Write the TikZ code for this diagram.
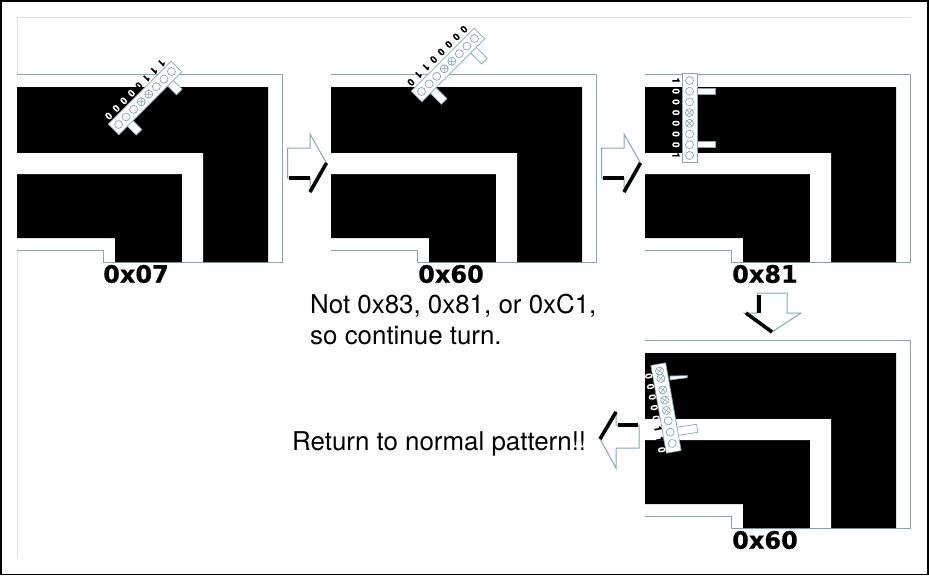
\documentclass[tikz,border=0pt]{standalone}
\usepackage{fontspec}
\setmainfont{TeX Gyre Heros}
\newfontfamily\boldlab[FakeBold=0.6]{DejaVu Sans Bold}
\newfontfamily\bitfont[FakeBold=0.4]{TeX Gyre Heros Bold}
\definecolor{edge}{HTML}{8AA5AF}
\definecolor{faint}{HTML}{E0E0E0}
\tikzset{
  x=1pt,y=-1pt,
  thinedge/.style={draw=edge,line width=1pt},
  heavy/.style={line width=3.6pt,black},
  hexlabel/.style={font=\boldlab\fontsize{24}{24}\selectfont,inner sep=0pt,anchor=center},
  caption/.style={font=\fontsize{25.9}{31}\selectfont,inner sep=0pt,anchor=base west},
  sbit/.style={font=\bitfont\fontsize{10}{10}\selectfont,inner sep=0pt,anchor=center},
  board/.style={draw=edge,fill=white,line width=0.7pt},
}
\newcommand{\trackpanel}[2]{
  \begin{scope}[shift={(#1,#2)}]
    \path[thinedge,fill=white] (17,74) -- (282,74) -- (282,262) -- (103,262) -- (103,250) -- (17,250);
    \fill[black] (17,87) -- (268,87) -- (268,262) -- (115,262) -- (115,238) -- (17,238) -- cycle;
    \fill[white] (17,153) -- (203,153) -- (203,262) -- (182,262) -- (182,174) -- (17,174) -- cycle;
  \end{scope}
}
% tabs: cx, cy, angle, along, width, length
\newcommand{\sensortabs}[6]{
  \begin{scope}[shift={(#1,#2)},rotate=#3,y=1pt,x=1pt]
    \draw[board] ({-#4-#5/2},-6) rectangle ({-#4+#5/2},-#6);
    \draw[board] ({#4-#5/2},-6) rectangle ({#4+#5/2},-#6);
  \end{scope}
}
% bar: cx, cy, angle, circles (pos/crossed), labels (index/digit/colour), normal offset, along shift
\newcommand{\sensorbar}[7]{
  \begin{scope}[shift={(#1,#2)},rotate=#3,y=1pt,x=1pt]
    \draw[board] (-44.5,-7.5) rectangle (44.5,7.5);
    \foreach \p/\cr in {#4} {
      \draw[edge,line width=0.7pt] (\p,0) circle (4);
      \ifnum\cr=1
        \draw[edge,line width=0.6pt] ({\p-2.8},-2.8) -- ({\p+2.8},2.8);
        \draw[edge,line width=0.6pt] ({\p-2.8},2.8) -- ({\p+2.8},-2.8);
      \fi
    }
    \foreach \k/\b/\c in {#5} {
      \node[sbit,text=\c,rotate=#3-180] at ({(\k-3.5)*10.7+#7},#6) {\b};
    }
  \end{scope}
}
\begin{document}
\begin{tikzpicture}
\useasboundingbox (0,0) rectangle (929,576);
\fill[white] (0,0) rectangle (929,576);
\draw[black,line width=1.6pt] (0.7,0.7) rectangle (928.2,574.5);
\draw[faint,line width=1pt] (910.5,17) -- (17,17) -- (17,557.5);

\trackpanel{0}{0}
\trackpanel{314}{0}
\trackpanel{628}{0}
\trackpanel{628}{266}

\node[hexlabel] (lab1) at (136,274) {0x07};
\node[hexlabel] (lab2) at (451,274) {0x60};
\node[hexlabel] (lab3) at (765,274) {0x81};
\node[hexlabel] (lab4) at (765,540) {0x60};

\sensortabs{145}{98}{45}{28.5}{8}{20}
\sensorbar{145}{98}{45}{-37.45/0,-26.75/0,-16.05/0,-5.35/1,5.35/1,16.05/0,26.75/0,37.45/0}{0/0/white,1/0/white,2/0/white,3/0/white,4/0/black,5/1/black,6/1/black,7/1/black}{13}{-1}

\sensortabs{448}{65}{45}{28.5}{8}{23}
\sensorbar{448}{65}{45}{-37.45/0,-26.75/0,-16.05/0,-5.35/1,5.35/1,16.05/0,26.75/0,37.45/0}{0/0/black,1/1/black,2/1/black,3/0/black,4/0/black,5/0/black,6/0/black,7/0/black}{14}{-1}

\sensortabs{689.5}{118}{90}{26.5}{6}{25.5}
\sensorbar{689.5}{118}{90}{-37.45/0,-26.75/0,-16.05/0,-5.35/1,5.35/1,16.05/0,26.75/0,37.45/0}{0/1/black,1/0/white,2/0/white,3/0/white,4/0/white,5/0/white,6/0/white,7/1/black}{13.5}{0}

% tabs of the last bar are uneven
\coordinate (tabA1) at (670,376);
\coordinate (tabA2) at (687.3,375.7);
\coordinate (tabA3) at (687.3,377.7);
\coordinate (tabA4) at (670,380);
\draw[board] (tabA1) -- (tabA2) -- (tabA3) -- (tabA4) -- cycle;
\coordinate (tabB1) at (676,427.3);
\coordinate (tabB2) at (696.7,424.3);
\coordinate (tabB3) at (697.7,432.3);
\coordinate (tabB4) at (676,435.6);
\draw[board] (tabB1) -- (tabB2) -- (tabB3) -- (tabB4) -- cycle;
\sensorbar{666}{408}{100}{-36/0,-24.6/0,-13/0,-2.5/1,8/1,18.4/1,30/1,37.5/1}{0/0/white,1/1/black,2/1/black,3/0/white,4/0/white,5/0/white,6/0/white,7/0/white}{11.5}{-3}

% right arrows
\foreach \dx in {0,314} {
  \begin{scope}[shift={(\dx,0)}]
    \draw[thinedge,fill=white] (287.5,148) -- (310,148) -- (310,134) -- (326.5,163) -- (310,192) -- (310,178) -- (287.5,178) -- cycle;
    \draw[heavy] (289,178) -- (310,178);
    \draw[heavy] (326.5,163) -- (310,192);
  \end{scope}
}
% down arrow
\draw[thinedge,fill=white] (757,293) -- (787,293) -- (787,313) -- (801,313) -- (772,332) -- (744,313) -- (757,313) -- cycle;
\draw[heavy] (759,295) -- (759,313);
\draw[heavy] (746,313) -- (772,332);
% left arrow
\draw[thinedge,fill=white] (639,425) -- (616,425) -- (616,412) -- (600,439) -- (616,468) -- (616,448) -- (639,448) -- cycle;
\draw[heavy] (618,425) -- (638,425);
\draw[heavy] (616,412) -- (600,439);

\node[caption] (note1) at (310,313) {Not 0x83, 0x81, or 0xC1,};
\node[caption] (note2) at (310,344) {so continue turn.};
\node[caption] (note3) at (292,450) {Return to normal pattern!!};
\end{tikzpicture}
\end{document}
